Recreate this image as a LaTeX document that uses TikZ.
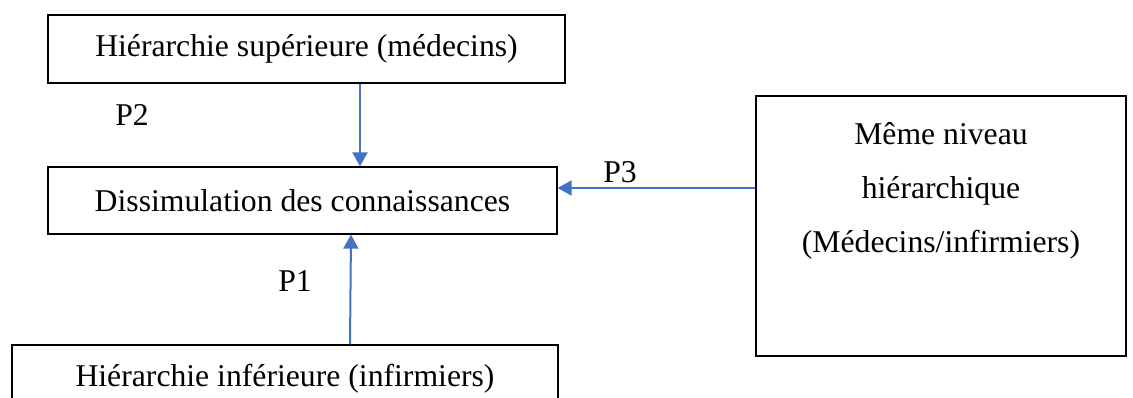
\documentclass[tikz,border=0pt]{standalone}
\usepackage{fontspec}
\setmainfont{Liberation Serif}
\usetikzlibrary{arrows.meta}
\definecolor{arrblue}{RGB}{68,114,196}
\begin{document}
\begin{tikzpicture}[x=1pt,y=-1pt,
  box/.style={draw=black,line width=1.3pt,rectangle,inner sep=0pt,font=\fontsize{31.7}{38}\selectfont},
  lbl/.style={inner sep=0pt,font=\fontsize{31.7}{38}\selectfont},
  arr/.style={draw=arrblue,line width=2pt,-{Triangle[width=15pt,length=14pt]}}]
\useasboundingbox (0,0) rectangle (1133,398);
\node[box,minimum width=517pt,minimum height=68pt] (top) at (306.5,49) {Hiérarchie supérieure (médecins)};
\node[box,minimum width=509pt,minimum height=67pt] (diss) at (302.5,200.5) {Dissimulation des connaissances};
\node[box,minimum width=546pt,minimum height=68pt] (bot) at (285,379) {Hiérarchie inférieure (infirmiers)};
\node[box,minimum width=370pt,minimum height=260pt] (right) at (941,226) {};
\node[lbl,align=center,font=\fontsize{31.7}{54}\selectfont] (righttext) at (941,191) {Même niveau\\hiérarchique\\(Médecins/infirmiers)};
\node[lbl] (p2) at (132,115) {P2};
\node[lbl] (p1) at (295,281) {P1};
\node[lbl] (p3) at (620,172) {P3};
\draw[arr] ([xshift=53.5pt]top.south) -- ([xshift=57.5pt]diss.north);
\draw[arr] ([xshift=65pt]bot.north) -- ([xshift=48.5pt]diss.south);
\draw[arr] ([yshift=38pt]right.west) -- ([yshift=12.5pt]diss.east);
\end{tikzpicture}
\end{document}
